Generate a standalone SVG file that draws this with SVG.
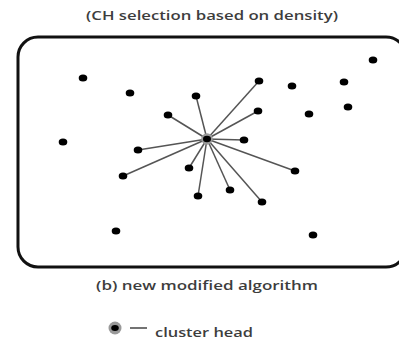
<svg xmlns="http://www.w3.org/2000/svg" width="399" height="341" viewBox="0 0 399 341">
  <style>
    .lbl { font-family: "Open Sans", "Liberation Sans", sans-serif; font-weight: 600; fill: #3d3d3d; }
    .node { fill: #000; }
    .link { stroke: #555; stroke-width: 1.5; }
    .ch-ring { fill: #999; }
  </style>
  <defs>
    <ellipse id="dot" rx="4.3" ry="3.6"/>
  </defs>
  <rect width="399" height="341" fill="#fff"/>

  <text class="lbl" x="212" y="20" font-size="12" text-anchor="middle" textLength="252" lengthAdjust="spacingAndGlyphs">(CH selection based on density)</text>

  <!-- sensing field -->
  <rect x="18" y="37" width="388" height="230" rx="20" ry="20" fill="none" stroke="#111" stroke-width="3"/>

  <!-- links from the cluster head -->
  <g id="connectors" class="link">
    <line x1="207" y1="139" x2="196" y2="96"/>
    <line x1="207" y1="139" x2="168" y2="115"/>
    <line x1="207" y1="139" x2="138" y2="150"/>
    <line x1="207" y1="139" x2="123" y2="176"/>
    <line x1="207" y1="139" x2="189" y2="168"/>
    <line x1="207" y1="139" x2="198" y2="196"/>
    <line x1="207" y1="139" x2="230" y2="190"/>
    <line x1="207" y1="139" x2="262" y2="202"/>
    <line x1="207" y1="139" x2="295" y2="171"/>
    <line x1="207" y1="139" x2="244" y2="140"/>
    <line x1="207" y1="139" x2="258" y2="111"/>
    <line x1="207" y1="139" x2="259" y2="81"/>
  </g>

  <!-- sensor nodes -->
  <g id="n1" class="node"><use href="#dot" x="83" y="78"/></g>
  <g id="n2" class="node"><use href="#dot" x="130" y="93"/></g>
  <g id="n3" class="node"><use href="#dot" x="196" y="96"/></g>
  <g id="n4" class="node"><use href="#dot" x="168" y="115"/></g>
  <g id="n5" class="node"><use href="#dot" x="63" y="142"/></g>
  <g id="n6" class="node"><use href="#dot" x="138" y="150"/></g>
  <g id="n7" class="node"><use href="#dot" x="189" y="168"/></g>
  <g id="n8" class="node"><use href="#dot" x="123" y="176"/></g>
  <g id="n9" class="node"><use href="#dot" x="198" y="196"/></g>
  <g id="n10" class="node"><use href="#dot" x="230" y="190"/></g>
  <g id="n11" class="node"><use href="#dot" x="262" y="202"/></g>
  <g id="n12" class="node"><use href="#dot" x="295" y="171"/></g>
  <g id="n13" class="node"><use href="#dot" x="244" y="140"/></g>
  <g id="n14" class="node"><use href="#dot" x="258" y="111"/></g>
  <g id="n15" class="node"><use href="#dot" x="259" y="81"/></g>
  <g id="n16" class="node"><use href="#dot" x="292" y="86"/></g>
  <g id="n17" class="node"><use href="#dot" x="344" y="82"/></g>
  <g id="n18" class="node"><use href="#dot" x="373" y="60"/></g>
  <g id="n19" class="node"><use href="#dot" x="309" y="114"/></g>
  <g id="n20" class="node"><use href="#dot" x="348" y="107"/></g>
  <g id="n21" class="node"><use href="#dot" x="116" y="231"/></g>
  <g id="n22" class="node"><use href="#dot" x="313" y="235"/></g>

  <!-- cluster head -->
  <g id="ch">
    <circle class="ch-ring" cx="207" cy="139" r="5.8"/>
    <ellipse class="node" cx="207" cy="139" rx="4" ry="3.3"/>
  </g>

  <text class="lbl" x="207" y="290" font-size="12" text-anchor="middle" textLength="222" lengthAdjust="spacingAndGlyphs">(b) new modified algorithm</text>

  <!-- legend -->
  <g id="legend">
    <circle class="ch-ring" cx="115" cy="328" r="6.5"/>
    <ellipse class="node" cx="115" cy="328" rx="3.8" ry="3"/>
    <line x1="130" y1="328" x2="147" y2="328" stroke="#444" stroke-width="1.5"/>
    <text class="lbl" x="155" y="337" font-size="12" textLength="98" lengthAdjust="spacingAndGlyphs">cluster head</text>
  </g>
</svg>
